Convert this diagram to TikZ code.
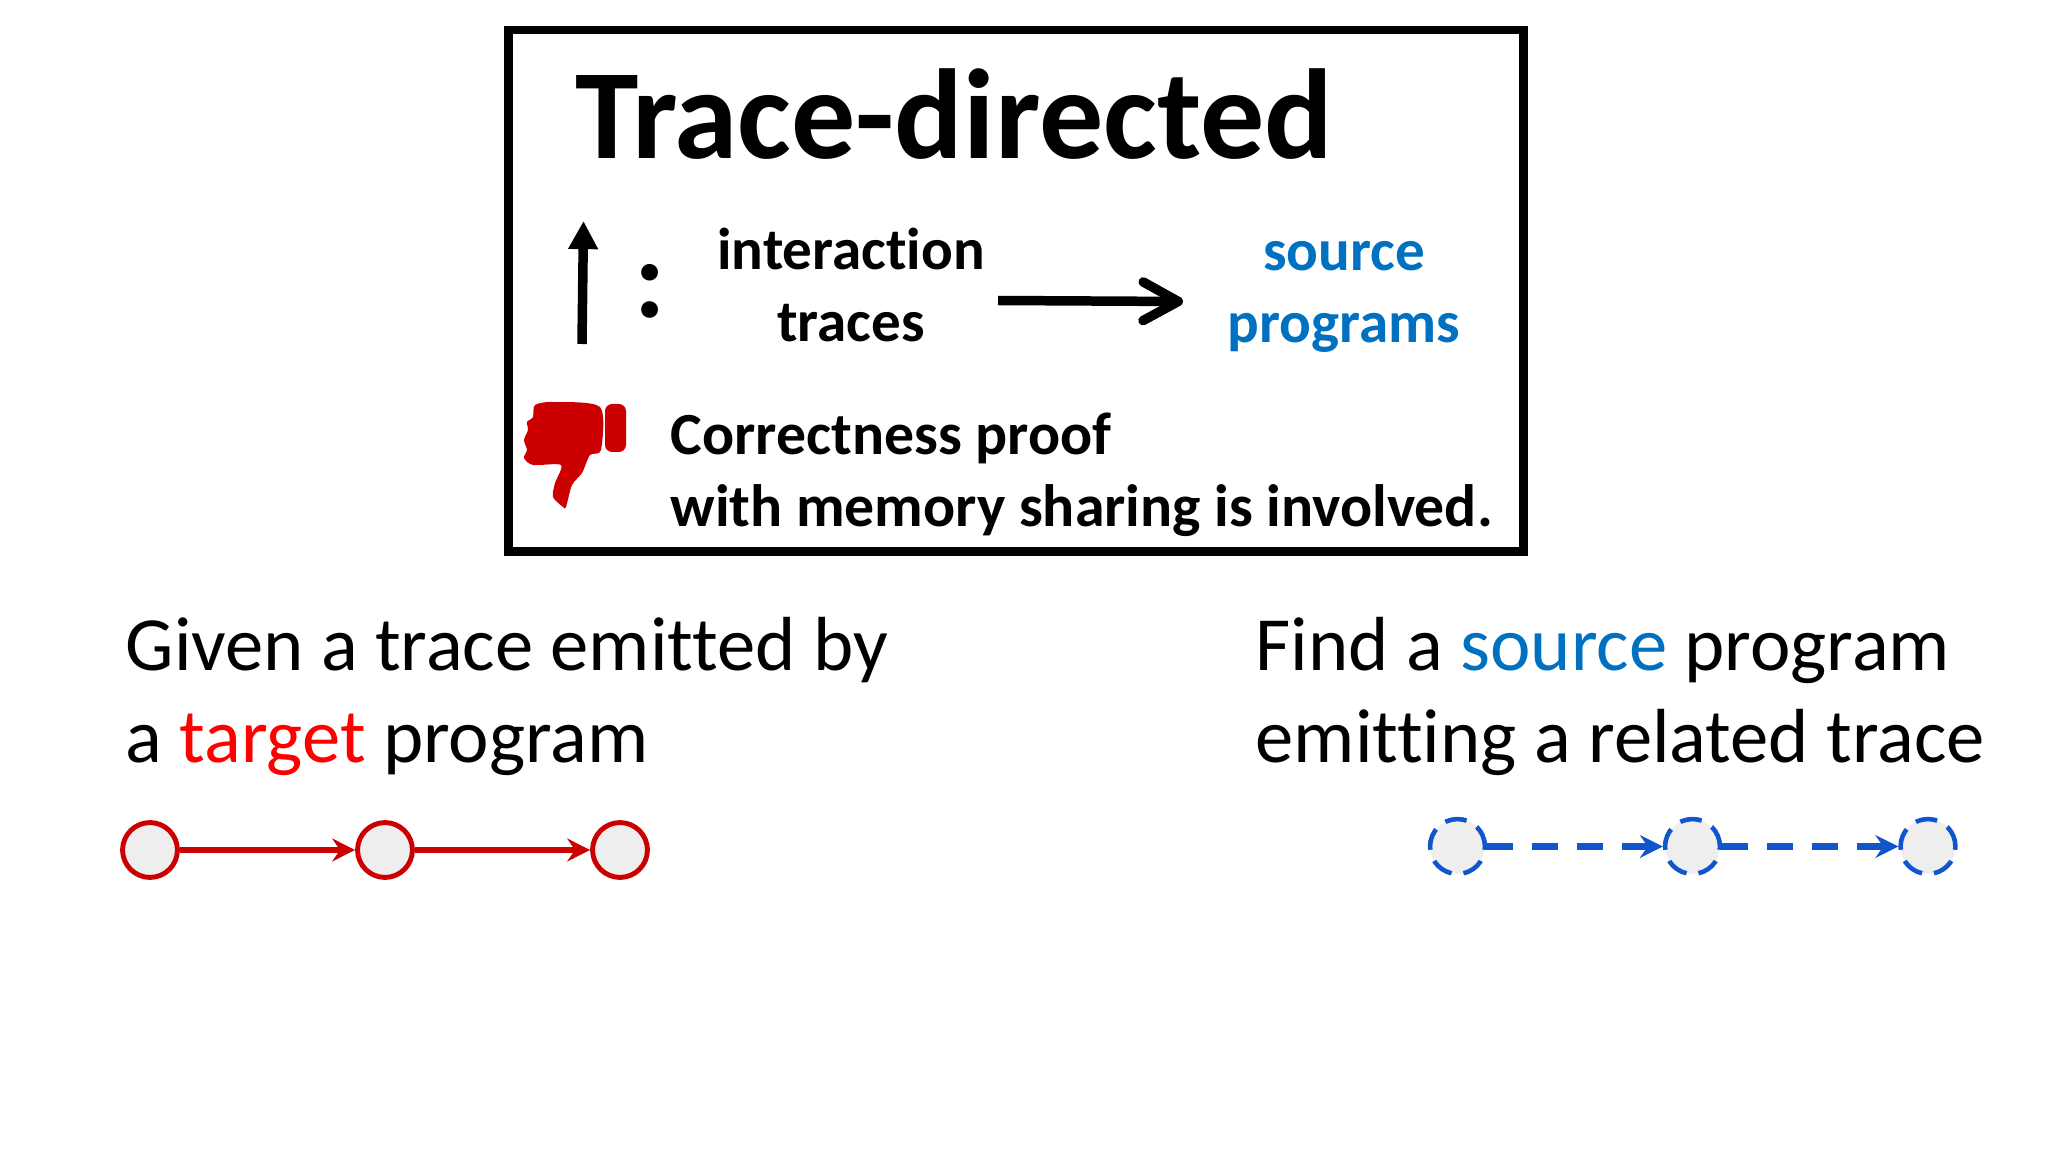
\documentclass[tikz,border=0pt]{standalone}
\usepackage{fontspec}
\usepackage{xcolor}
\usetikzlibrary{arrows.meta}
\setmainfont{Carlito}[Ligatures=NoCommon]
\definecolor{srcblue}{HTML}{0070C0}
\definecolor{tgtred}{HTML}{FF0000}
\definecolor{nodered}{HTML}{CC0000}
\definecolor{nodeblue}{HTML}{1155CC}
\definecolor{nodefill}{HTML}{EEEEEE}
\tikzset{
  titletext/.style={anchor=base west,inner sep=0pt,font=\fontsize{36.4}{40}\selectfont\bfseries},
  boxtext/.style={anchor=base,inner sep=0pt,font=\fontsize{16.8}{20}\selectfont\bfseries},
  notetext/.style={anchor=base west,inner sep=0pt,font=\fontsize{17}{20}\selectfont\bfseries},
  bodytext/.style={anchor=base west,inner sep=0pt,font=\fontsize{21.8}{26}\selectfont},
  tgtstate/.style={circle,draw=nodered,fill=nodefill,line width=1.4pt,minimum size=15.6pt,inner sep=0pt},
  srcstate/.style={circle,draw=nodeblue,fill=nodefill,line width=1.3pt,minimum size=15.6pt,inner sep=0pt,dash pattern=on 6.2pt off 3.4pt},
  tgtstep/.style={draw=nodered,line width=1.7pt,-{Stealth[length=6.5pt,width=6.5pt,inset=2.2pt]}},
  srcstep/.style={draw=nodeblue,line width=1.9pt,dash pattern=on 7.4pt off 5.4pt,-{Stealth[length=6.5pt,width=6.5pt,inset=2.2pt]}},
}
\begin{document}
\begin{tikzpicture}[x=0.01cm,y=-0.01cm]
  \useasboundingbox (0,0) rectangle (2048,1152);
  % box
  \draw[line width=2.55pt] (508.5,30) rectangle (1523,551.5);
  \node (title) at (574.5,159) [titletext] {Trace-directed};
  \coordinate (upfoot) at (582,344);
  \coordinate (uphead) at (583.5,221);
  \draw[line width=2.7pt,-{Triangle[length=8pt,width=8pt]}] (upfoot) -- (uphead);
  \node (colon) at (650,318) [anchor=base,inner sep=0pt,font=\fontsize{32}{34}\selectfont\bfseries] {:};
  \node (inter) at (851,270) [boxtext] {interaction};
  \node (traces) at (851,342) [boxtext] {traces};
  \node (src) at (1344,270.5) [boxtext,text=srcblue] {source};
  \node (prog) at (1344,342.5) [boxtext,text=srcblue] {programs};
  \coordinate (mapfoot) at (998,300.5);
  \coordinate (maphead) at (1183,301.5);
  \draw[line width=2.7pt,-{Straight Barb[length=10pt,width=11pt,line width=2.7pt,round]}] (mapfoot) -- (maphead);
  % thumb
  \fill[nodered] plot[smooth cycle,tension=0.45] coordinates {(535,405) (553,402) (600,407) (601,450) (590,455) (582,473) (572,485) (566,507) (563,507) (553,497) (555,483) (561,465) (533,465) (524,458) (527,450) (524,440) (528,430) (527,422) (533,417)};
  \fill[nodered,rounded corners=2pt] (605,404) rectangle (626,452);
  \node (proof) at (670,454.5) [notetext] {Correctness proof};
  \node (memory) at (670,526.5) [notetext] {with memory sharing is involved.};
  % left side
  \node (given) at (125,670) [bodytext] {Given a trace emitted by};
  \node (tgt) at (125,762) [bodytext] {a \textcolor{tgtred}{target} program};
  \node (t1) at (150,850) [tgtstate] {};
  \node (t2) at (385,850) [tgtstate] {};
  \node (t3) at (620,850) [tgtstate] {};
  \draw[tgtstep] (t1) -- (t2);
  \draw[tgtstep] (t2) -- (t3);
  % right side
  \node (find) at (1255,670) [bodytext] {Find a \textcolor{srcblue}{source} program};
  \node (emit) at (1255,762) [bodytext] {emitting a related trace};
  \node (s1) at (1457.5,846.5) [srcstate] {};
  \node (s2) at (1692.5,846.5) [srcstate] {};
  \node (s3) at (1928,846.5) [srcstate] {};
  \draw[srcstep] (s1) -- (s2);
  \draw[srcstep] (s2) -- (s3);
\end{tikzpicture}
\end{document}
